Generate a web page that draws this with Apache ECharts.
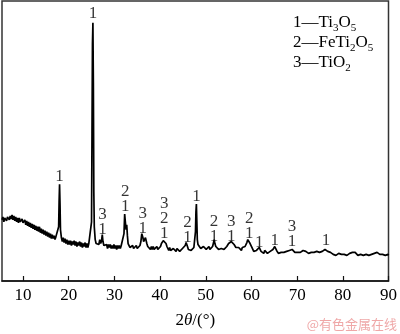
<!DOCTYPE html>
<html>
<head>
<meta charset="utf-8">
<script src="https://cdn.jsdelivr.net/npm/echarts@6/dist/echarts.min.js"></script>
<style>html,body{margin:0;padding:0;background:#fff;}#c{width:400px;height:334px;}</style>
</head>
<body>
<div id="c"></div>
<script>
// XRD pattern: [2theta (deg), relative intensity]
var pattern = [
[5.4,62],[5.6,65],[5.8,60],[6.0,64],[6.2,66],[6.4,61],[6.6,65],[6.8,67],[7.0,62],[7.2,66],[7.4,63],[7.6,67],[7.8,62],[8.0,66],[8.2,61],[8.4,65],[8.6,60],[8.8,64],[9.0,59],[9.2,64],[9.4,60],[9.6,58],[9.8,63],[10.0,59],
[10.2,57],[10.4,62],[10.6,57],[10.8,61],[11.0,56],[11.2,60],[11.4,55],[11.6,59],[11.8,54],[12.0,58],[12.2,53],[12.4,57],[12.6,52],[12.8,56],[13.0,51],[13.2,55],[13.4,50],[13.6,55],[13.8,49],[14.0,53],
[14.2,48],[14.4,52],[14.6,47],[14.8,51],[15.0,46],[15.2,50],[15.4,45],[15.6,49],[15.8,44],[16.0,48],[16.2,43],[16.4,47],[16.6,43],[16.8,46],[17.0,42],[17.2,45],[17.4,43],[17.6,45],[17.8,55],[17.9,80],
[18.0,98],[18.1,78],[18.2,52],[18.4,44],[18.6,40],[18.8,44],[19.0,39],[19.2,43],[19.4,38],[19.6,42],[19.8,37],[20.0,41],[20.2,37],[20.4,41],[20.6,36],[20.8,40],[21.0,37],[21.2,41],[21.4,36],[21.6,40],
[21.8,35],[22.0,39],[22.2,36],[22.4,40],[22.6,35],[22.8,39],[23.0,34],[23.2,38],[23.4,35],[23.6,39],[23.8,34],[24.0,38],[24.2,34],[24.4,38],[24.6,36],[24.8,40],[25.0,60],[25.1,150],[25.2,240],[25.3,262],
[25.4,200],[25.5,90],[25.6,55],[25.8,42],[26.0,38],[26.2,36],[26.4,38],[26.6,37],[26.8,42],[27.0,38],[27.2,41],[27.35,47],[27.5,40],[27.7,36],[27.9,37],[28.1,34],[28.3,37],[28.5,33],[28.7,37],[28.9,34],
[29.1,37],[29.3,33],[29.5,36],[29.7,33],[29.9,37],[30.1,33],[30.3,36],[30.5,32],[30.7,36],[30.9,33],[31.1,36],[31.3,33],[31.5,36],[31.7,35],[31.9,38],[32.1,48],[32.25,68],[32.4,60],[32.55,52],[32.7,57],
[32.85,46],[33.0,38],[33.2,36],[33.4,34],[33.6,35],[33.8,33],[34.0,36],[34.2,33],[34.4,35],[34.6,33],[34.8,36],[35.0,33],[35.2,35],[35.4,34],[35.6,36],[35.8,40],[36.0,48],[36.1,50],[36.25,44],[36.4,40],
[36.6,41],[36.8,44],[36.95,43],[37.1,38],[37.3,35],[37.5,33],[37.7,35],[37.9,32],[38.1,35],[38.3,32],[38.5,35],[38.7,32],[38.9,34],[39.1,32],[39.3,35],[39.5,32],[39.7,34],[39.9,33],[40.1,35],[40.3,38],
[40.5,40],[40.7,41],[40.9,40],[41.1,41],[41.3,38],[41.5,35],[41.7,33],[41.9,31],[42.1,34],[42.3,31],[42.5,33],[42.7,30],[42.9,33],[43.1,31],[43.3,33],[43.5,30],[43.7,33],[43.9,31],[44.1,33],[44.3,30],
[44.5,32],[44.7,30],[44.9,33],[45.1,31],[45.3,33],[45.5,36],[45.7,39],[45.85,38],[46.0,35],[46.2,32],[46.4,30],[46.6,33],[46.8,31],[47.0,33],[47.2,32],[47.4,34],[47.6,36],[47.75,50],[47.85,70],[47.95,78],
[48.05,60],[48.15,42],[48.3,37],[48.5,35],[48.7,36],[48.9,33],[49.1,35],[49.3,32],[49.5,35],[49.7,33],[49.9,35],[50.1,32],[50.3,34],[50.5,32],[50.7,35],[50.9,32],[51.1,34],[51.3,33],[51.5,35],[51.7,37],
[51.85,42],[52.0,38],[52.2,35],[52.4,33],[52.6,34],[52.8,32],[53.0,34],[53.2,31],[53.4,33],[53.6,32],[53.8,34],[54.0,32],[54.2,34],[54.4,33],[54.6,35],[54.8,36],[55.0,38],[55.2,40],[55.4,39],[55.6,40],
[55.8,38],[56.0,39],[56.2,37],[56.4,36],[56.6,34],[56.8,35],[57.0,32],[57.2,34],[57.4,32],[57.6,33],[57.8,31],[58.0,34],[58.2,32],[58.4,34],[58.6,35],[58.8,36],[59.0,39],[59.2,42],[59.35,43],[59.5,40],
[59.7,38],[59.9,36],[60.1,34],[60.3,32],[60.5,30],[60.7,32],[60.9,29],[61.1,31],[61.3,32],[61.5,31],[61.7,34],[61.9,32],[62.1,30],[62.3,29],[62.5,31],[62.7,28],[62.9,31],[63.1,29],[63.3,30],[63.5,28],
[63.7,30],[63.9,29],[64.1,30],[64.3,29],[64.5,31],[64.7,32],[64.9,34],[65.1,35],[65.3,33],[65.5,31],[65.7,30],[65.9,28],[66.1,29],[66.3,28],[66.5,29],[66.7,28],[66.9,30],[67.1,29],[67.3,30],[67.5,29],
[67.7,30],[67.9,31],[68.1,30],[68.3,31],[68.5,32],[68.7,33],[68.9,32],[69.1,31],[69.3,30],[69.5,29],[69.7,30],[69.9,28],[70.1,29],[70.3,28],[70.5,30],[70.7,29],[70.9,30],[71.1,31],[71.3,31],[71.5,30],
[71.7,29],[71.9,30],[72.1,28],[72.3,29],[72.5,28],[72.7,29],[72.9,28],[73.1,29],[73.3,28],[73.5,30],[73.7,29],[73.9,28],[74.1,29],[74.3,30],[74.5,29],[74.7,30],[74.9,29],[75.1,30],[75.3,29],[75.5,30],
[75.7,31],[75.9,30],[76.1,32],[76.3,33],[76.5,31],[76.7,30],[76.9,29],[77.1,28],[77.3,29],[77.5,27],[77.7,28],[77.9,27],[78.1,28],[78.3,27],[78.5,26],[78.7,27],[78.9,26],[79.1,28],[79.3,27],[79.5,26],
[79.7,27],[79.9,28],[80.1,26],[80.3,27],[80.5,26],[80.7,27],[80.9,26],[81.1,28],[81.3,27],[81.5,28],[81.7,27],[81.9,28],[82.1,29],[82.3,29],[82.5,30],[82.7,29],[82.9,28],[83.1,27],[83.3,26],[83.5,27],
[83.7,26],[83.9,27],[84.1,26],[84.3,27],[84.5,26],[84.7,27],[84.9,26],[85.1,27],[85.3,26],[85.5,27],[85.7,26],[85.9,27],[86.1,26],[86.3,27],[86.5,27],[86.7,28],[86.9,28],[87.1,29],[87.3,28],[87.5,29],
[87.7,28],[87.9,28],[88.1,27],[88.3,27],[88.5,26],[88.7,27],[88.9,26],[89.1,27],[89.3,26],[89.5,27],[89.7,26],[89.9,27],[90.0,26]
];

// Peak annotations: position (2theta), height of label base, phase numbers (top to bottom)
var peakPos    = [18.0, 25.3, 27.4, 32.4, 36.2, 40.9, 46.0, 48.0, 51.8, 55.6, 59.5, 61.7, 65.1, 68.9, 76.3];
var peakBase   = [98,   264,  45,   68,   46,   41,   36,   78,   38,   38,   41,   31,   33,   32,   33];
var peakPhases = ['1', '1', '3\n1', '2\n1', '3\n1', '3\n2\n1', '2\n1', '1', '2\n1', '3\n1', '2\n1', '1', '1', '3\n1', '1'];

var xTicks = [10, 20, 30, 40, 50, 60, 70, 80, 90];

// Legend entries: text fragments, subscripts marked with {s|..}
var legendItems = ['1—Ti{s|3}O{s|5}', '2—FeTi{s|2}O{s|5}', '3—TiO{s|2}'];

var serif = '"Liberation Serif","Times New Roman",serif';

var annot = peakPos.map(function (x, i) { return { value: [x, peakBase[i]], label: { formatter: peakPhases[i] } }; });

var legendRich = {
  n: { fontSize: 17, fontFamily: serif, lineHeight: 17, verticalAlign: 'top', fill: '#000' },
  s: { fontSize: 11, fontFamily: serif, lineHeight: 11, verticalAlign: 'top', padding: [9, 0, 0, 0], fill: '#000' }
};
var legendGraphics = legendItems.map(function (t, i) {
  var txt = t.replace(/(^|\})([^{]+)/g, function (m, a, b) { return a + '{n|' + b + '}'; });
  return { type: 'text', left: 293, top: 14 + i * 20, style: { text: txt, rich: legendRich, fill: '#000' } };
});

var chart = echarts.init(document.getElementById('c'), null, { renderer: 'canvas' });
chart.setOption({
  animation: false,
  backgroundColor: '#fff',
  grid: { left: 2, right: 9, top: 1, bottom: 49, show: true, borderColor: '#333', borderWidth: 1.5, backgroundColor: 'transparent' },
  xAxis: {
    type: 'value', min: 5.4, max: 90,
    axisLine: { show: true, lineStyle: { color: '#111', width: 1.5 } },
    axisTick: { show: true, inside: true, length: 5, customValues: xTicks, lineStyle: { color: '#111', width: 1.2 } },
    axisLabel: { customValues: xTicks, color: '#000', fontFamily: serif, fontSize: 17, margin: 6 },
    splitLine: { show: false },
    name: '2{i|θ}/(°)',
    nameLocation: 'middle', nameGap: 31,
    nameTextStyle: { color: '#000', fontFamily: serif, fontSize: 17, rich: { i: { fontStyle: 'italic', fontFamily: serif, fontSize: 17, color: '#000' } } }
  },
  yAxis: { type: 'value', min: 0, max: 284, show: false, splitLine: { show: false } },
  series: [
    { type: 'line', data: pattern, symbol: 'none', lineStyle: { color: '#000', width: 1.7 }, z: 3 },
    { type: 'scatter', data: annot, symbolSize: 0, silent: true,
      label: { show: true, position: 'top', distance: 0, color: '#000', fontFamily: serif, fontSize: 17, lineHeight: 15, align: 'center' } }
  ],
  graphic: legendGraphics.concat([
    { type: 'text', right: 3, top: 318, style: { text: '@有色金属在线', fill: 'rgba(232,130,130,0.7)', font: '13px "Noto Sans CJK SC", sans-serif' } }
  ])
});
</script>
</body>
</html>
